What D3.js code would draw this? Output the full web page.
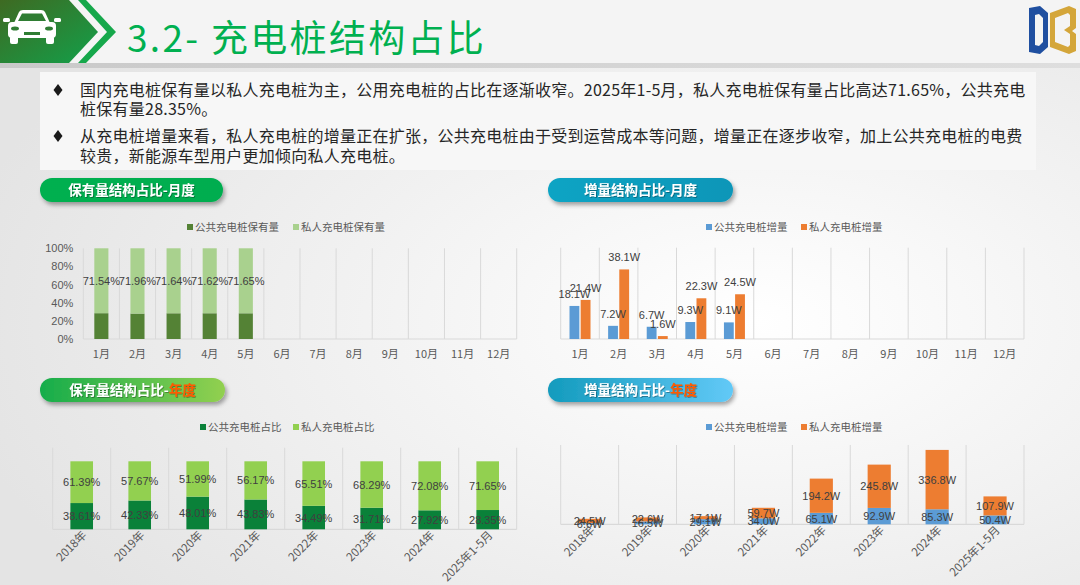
<!DOCTYPE html>
<html>
<head>
<meta charset="utf-8">
<script src="https://cdn.jsdelivr.net/npm/d3@7"></script>
<style>
html, body { margin: 0; padding: 0; }
body { width: 1080px; height: 585px; overflow: hidden; }
text { font-family: "Liberation Sans", "Noto Sans CJK SC", sans-serif; }
.cjk { font-family: "Noto Sans CJK SC", sans-serif; }
</style>
</head>
<body>
<svg id="page" width="1080" height="585"></svg>
<script>
// ---- data ----
var months = ["1月", "2月", "3月", "4月", "5月", "6月", "7月", "8月", "9月", "10月", "11月", "12月"];
var monthPublicShare = [28.46, 28.04, 28.36, 28.38, 28.35];
var monthPrivateShare = [71.54, 71.96, 71.64, 71.62, 71.65];
var monthPublicAdd = [18.1, 7.2, 6.7, 9.3, 9.1];
var monthPrivateAdd = [21.4, 38.1, 1.6, 22.3, 24.5];

var years = ["2018年", "2019年", "2020年", "2021年", "2022年", "2023年", "2024年", "2025年1-5月"];
var yearPublicShare = [38.61, 42.33, 48.01, 43.83, 34.49, 31.71, 27.92, 28.35];
var yearPrivateShare = [61.39, 57.67, 51.99, 56.17, 65.51, 68.29, 72.08, 71.65];
var yearPublicAdd = [6.6, 16.5, 29.1, 34.0, 65.1, 92.9, 85.3, 50.4];
var yearPrivateAdd = [24.5, 22.6, 17.1, 59.7, 194.2, 245.8, 336.8, 107.9];

var pctTicks = [0, 20, 40, 60, 80, 100];

var bullets = [
    ["国内充电桩保有量以私人充电桩为主，公用充电桩的占比在逐渐收窄。2025年1-5月，私人充电桩保有量占比高达71.65%，公共充电",
     "桩保有量28.35%。"],
    ["从充电桩增量来看，私人充电桩的增量正在扩张，公共充电桩由于受到运营成本等问题，增量正在逐步收窄，加上公共充电桩的电费",
     "较贵，新能源车型用户更加倾向私人充电桩。"]
];

var svg = d3.select("#page");
var defs = svg.append("defs");

// ---- page background ----
var bg = defs.append("radialGradient").attr("id", "bgGrad")
    .attr("cx", "70%").attr("cy", "55%").attr("r", "75%");
bg.append("stop").attr("offset", "0%").attr("stop-color", "#ffffff");
bg.append("stop").attr("offset", "100%").attr("stop-color", "#e4e4e4");
svg.append("rect").attr("width", 1080).attr("height", 585).attr("fill", "url(#bgGrad)");

var sh = defs.append("filter").attr("id", "pillShadow")
    .attr("x", "-10%").attr("y", "-30%").attr("width", "130%").attr("height", "180%");
sh.append("feDropShadow").attr("dx", 2).attr("dy", 3).attr("stdDeviation", 2)
    .attr("flood-color", "#000").attr("flood-opacity", 0.35);

var tsh = defs.append("filter").attr("id", "textShadow");
tsh.append("feDropShadow").attr("dx", 0.8).attr("dy", 0.8).attr("stdDeviation", 0.5)
    .attr("flood-color", "#000").attr("flood-opacity", 0.4);

// ---- header ----
var hdr = defs.append("linearGradient").attr("id", "hdrGreen")
    .attr("x1", "0%").attr("y1", "0%").attr("x2", "100%").attr("y2", "100%");
hdr.append("stop").attr("offset", "0%").attr("stop-color", "#3e6a22");
hdr.append("stop").attr("offset", "100%").attr("stop-color", "#13a04a");

var lineGrad = defs.append("linearGradient").attr("id", "hdrLine");
lineGrad.append("stop").attr("offset", "0%").attr("stop-color", "#c9c9c9");
lineGrad.append("stop").attr("offset", "100%").attr("stop-color", "#dedede");

svg.append("rect").attr("x", 0).attr("y", 0).attr("width", 1080).attr("height", 63).attr("fill", "#f4f4f4");
svg.append("rect").attr("x", 0).attr("y", 63).attr("width", 1080).attr("height", 5).attr("fill", "url(#hdrLine)");

svg.append("polygon").attr("points", "0,0 69,0 98,32 69,63 0,63").attr("fill", "url(#hdrGreen)");
svg.append("polygon").attr("points", "78,0 86,0 116,32 86,63 78,63 107,32").attr("fill", "#16a84b");

// car icon
var car = svg.append("g").attr("fill", "#ffffff");
car.append("path").attr("d", "M14,23 L19,12 Q20,10 23,10 L41,10 Q44,10 45,12 L50,23 Z");
car.append("rect").attr("x", 8).attr("y", 22).attr("width", 48).attr("height", 16).attr("rx", 4);
car.append("rect").attr("x", 3).attr("y", 18).attr("width", 7).attr("height", 4).attr("rx", 1.5);
car.append("rect").attr("x", 54).attr("y", 18).attr("width", 7).attr("height", 4).attr("rx", 1.5);
car.append("rect").attr("x", 10).attr("y", 36).attr("width", 8).attr("height", 8).attr("rx", 2);
car.append("rect").attr("x", 46).attr("y", 36).attr("width", 8).attr("height", 8).attr("rx", 2);
car.append("path").attr("d", "M18,21 L22,13.5 L42,13.5 L46,21 Z").attr("fill", "#2f7d33");
car.append("ellipse").attr("cx", 15).attr("cy", 28.5).attr("rx", 4).attr("ry", 2).attr("fill", "#2f7d33");
car.append("ellipse").attr("cx", 49).attr("cy", 28.5).attr("rx", 4).attr("ry", 2).attr("fill", "#2f7d33");
car.append("rect").attr("x", 24).attr("y", 32).attr("width", 16).attr("height", 3).attr("fill", "#2f7d33");

svg.append("text").attr("class", "cjk").attr("x", 127).attr("y", 52)
    .attr("font-size", 37).attr("letter-spacing", 2.3).attr("fill", "#00b050")
    .text("3.2- 充电桩结构占比");

// logo
svg.append("path").attr("fill-rule", "evenodd").attr("fill", "#1f4fa0")
    .attr("d", "M1029,8 L1040,6 L1048,13 L1048,47 L1040,54 L1029,52 Z M1035,15 L1039,14 L1043,18 L1043,42 L1039,46 L1035,45 Z");
svg.append("path").attr("fill-rule", "evenodd").attr("fill", "#d4a63a")
    .attr("d", "M1050,13 L1069,6 L1076,9 L1076,28 L1072,31 L1076,34 L1076,51 L1069,54 L1050,47 Z M1055,18 L1068,13 L1070,15 L1070,26 L1064,30 L1070,34 L1070,45 L1068,47 L1055,42 Z");

// ---- text box ----
svg.append("rect").attr("x", 40).attr("y", 72).attr("width", 996).attr("height", 98).attr("fill", "#f7f7f7");
var lineY = [[96, 115], [142, 162]];
bullets.forEach(function (para, i) {
    var cy = lineY[i][0] - 6;
    svg.append("path")
        .attr("d", "M58," + (cy - 6) + " L62.5," + cy + " L58," + (cy + 6) + " L53.5," + cy + " Z")
        .attr("fill", "#1a1a1a");
    para.forEach(function (line, j) {
        svg.append("text").attr("class", "cjk")
            .attr("x", 80).attr("y", lineY[i][j])
            .attr("font-size", 16).attr("letter-spacing", 0.25).attr("fill", "#262626")
            .text(line);
    });
});

// ---- pill headers ----
function pill(x, y, w, h, id, c1, c2, parts) {
    var gr = defs.append("linearGradient").attr("id", id);
    gr.append("stop").attr("offset", "0%").attr("stop-color", c1);
    gr.append("stop").attr("offset", "100%").attr("stop-color", c2);
    svg.append("rect").attr("x", x).attr("y", y).attr("width", w).attr("height", h)
        .attr("rx", h / 2).attr("fill", "url(#" + id + ")").attr("filter", "url(#pillShadow)");
    var t = svg.append("text").attr("class", "cjk")
        .attr("x", x + w / 2).attr("y", y + h / 2 + 5)
        .attr("text-anchor", "middle").attr("font-size", 13.5).attr("font-weight", "bold")
        .attr("filter", "url(#textShadow)");
    parts.forEach(function (p) {
        t.append("tspan").attr("fill", p[1]).text(p[0]);
    });
}
pill(40, 178, 183, 24, "pill1", "#00b050", "#00ad50", [["保有量结构占比-月度", "#ffffff"]]);
pill(548, 178, 185, 24, "pill2", "#0ea4c4", "#0b96b8", [["增量结构占比-月度", "#ffffff"]]);
pill(40, 378, 185, 24, "pill3", "#16ad4b", "#92d050", [["保有量结构占比-", "#ffffff"], ["年度", "#ff5a00"]]);
pill(548, 378, 185, 24, "pill4", "#139bbd", "#62c9f7", [["增量结构占比-", "#ffffff"], ["年度", "#ff5a00"]]);

// ---- shared helpers ----
function legend(items, y) {
    items.forEach(function (it) {
        svg.append("rect").attr("x", it.x).attr("y", y - 3).attr("width", 6).attr("height", 6).attr("fill", it.color);
        svg.append("text").attr("class", "cjk").attr("x", it.x + 8).attr("y", y + 4)
            .attr("font-size", 10.5).attr("fill", "#595959").text(it.label);
    });
}

function frame(x, top, bottom) {
    var cats = x.domain();
    var xs = cats.map(function (c) { return x(c); });
    xs.push(x.range()[1]);
    svg.append("g").selectAll("line").data(xs).enter().append("line")
        .attr("x1", function (d) { return d; }).attr("x2", function (d) { return d; })
        .attr("y1", top).attr("y2", bottom)
        .attr("stroke", "#d9d9d9").attr("stroke-width", 1);
    svg.append("line").attr("x1", x.range()[0]).attr("x2", x.range()[1])
        .attr("y1", bottom).attr("y2", bottom)
        .attr("stroke", "#d9d9d9").attr("stroke-width", 1.2);
}

function xAxis(x, y0, rotate) {
    var g = svg.append("g").attr("transform", "translate(0," + y0 + ")")
        .call(d3.axisBottom(x).tickSize(0).tickPadding(11));
    g.select(".domain").remove();
    g.selectAll("text").attr("class", "cjk").attr("font-size", 11).attr("fill", "#595959");
    if (rotate) {
        g.selectAll("text").attr("text-anchor", "end").attr("font-size", 11.5)
            .attr("dy", "0.35em").attr("dx", "0")
            .attr("transform", "translate(-5,-4) rotate(-45)");
    }
}

// ---- chart 1: monthly stock share ----
(function () {
    var x = d3.scaleBand().domain(months).range([83.3, 516.7]);
    var y = d3.scaleLinear().domain([0, 100]).range([339, 248.3]);
    var bw = x.step() * 0.39;
    frame(x, 248.3, 339);
    var ya = svg.append("g").attr("transform", "translate(83.3,0)")
        .call(d3.axisLeft(y).tickValues(pctTicks).tickFormat(function (d) { return d + "%"; })
            .tickSize(0).tickPadding(10));
    ya.select(".domain").remove();
    ya.selectAll("text").attr("font-size", 11).attr("fill", "#595959");

    var rows = monthPublicShare.map(function (p, i) {
        return { m: months[i], pub: p, pri: monthPrivateShare[i] };
    });
    var cx = function (d) { return x(d.m) + x.step() / 2; };
    svg.append("g").selectAll("rect").data(rows).enter().append("rect")
        .attr("x", function (d) { return cx(d) - bw / 2; }).attr("width", bw)
        .attr("y", function (d) { return y(d.pub); })
        .attr("height", function (d) { return y(0) - y(d.pub); })
        .attr("fill", "#548235");
    svg.append("g").selectAll("rect").data(rows).enter().append("rect")
        .attr("x", function (d) { return cx(d) - bw / 2; }).attr("width", bw)
        .attr("y", function (d) { return y(d.pub + d.pri); })
        .attr("height", function (d) { return y(d.pub) - y(d.pub + d.pri); })
        .attr("fill", "#a9d18e");
    svg.append("g").selectAll("text").data(rows).enter().append("text")
        .attr("x", cx).attr("y", function (d) { return y(d.pub + d.pri / 2) + 4; })
        .attr("text-anchor", "middle").attr("font-size", 11).attr("fill", "#404040")
        .text(function (d) { return d.pri.toFixed(2) + "%"; });
    xAxis(x, 339, false);
    legend([{ x: 187, color: "#548235", label: "公共充电桩保有量" },
            { x: 293, color: "#a9d18e", label: "私人充电桩保有量" }], 227);
})();

// ---- chart 2: monthly increments ----
(function () {
    var x = d3.scaleBand().domain(months).range([560.7, 1024]);
    var y = d3.scaleLinear().domain([0, 50]).range([339, 247.7]);
    var x1 = d3.scaleBand().domain(["pub", "pri"]).range([-10.5, 10.5]).paddingInner(0.12);
    frame(x, 247.7, 339);
    var rows = [];
    monthPublicAdd.forEach(function (v, i) {
        rows.push({ m: months[i], k: "pub", v: v, c: "#5b9bd5" });
        rows.push({ m: months[i], k: "pri", v: monthPrivateAdd[i], c: "#ed7d31" });
    });
    var bx = function (d) { return x(d.m) + x.step() / 2 + x1(d.k); };
    svg.append("g").selectAll("rect").data(rows).enter().append("rect")
        .attr("x", bx).attr("width", x1.bandwidth())
        .attr("y", function (d) { return y(d.v); })
        .attr("height", function (d) { return y(0) - y(d.v); })
        .attr("fill", function (d) { return d.c; });
    svg.append("g").selectAll("text").data(rows).enter().append("text")
        .attr("x", function (d) { return bx(d) + x1.bandwidth() / 2; })
        .attr("y", function (d) { return y(d.v) - 8; })
        .attr("text-anchor", "middle").attr("font-size", 11).attr("fill", "#404040")
        .text(function (d) { return d.v.toFixed(1) + "W"; });
    xAxis(x, 339, false);
    legend([{ x: 706, color: "#5b9bd5", label: "公共充电桩增量" },
            { x: 801, color: "#ed7d31", label: "私人充电桩增量" }], 227);
})();

// ---- chart 3: yearly stock share ----
(function () {
    var x = d3.scaleBand().domain(years).range([52.7, 516.7]);
    var y = d3.scaleLinear().domain([0, 120]).range([529.3, 447.7]);
    var bw = x.step() * 0.39;
    frame(x, 447.7, 529.3);
    var rows = yearPublicShare.map(function (p, i) {
        return { yr: years[i], pub: p, pri: yearPrivateShare[i] };
    });
    var cx = function (d) { return x(d.yr) + x.step() / 2; };
    svg.append("g").selectAll("rect").data(rows).enter().append("rect")
        .attr("x", function (d) { return cx(d) - bw / 2; }).attr("width", bw)
        .attr("y", function (d) { return y(d.pub); })
        .attr("height", function (d) { return y(0) - y(d.pub); })
        .attr("fill", "#0a8139");
    svg.append("g").selectAll("rect").data(rows).enter().append("rect")
        .attr("x", function (d) { return cx(d) - bw / 2; }).attr("width", bw)
        .attr("y", function (d) { return y(d.pub + d.pri); })
        .attr("height", function (d) { return y(d.pub) - y(d.pub + d.pri); })
        .attr("fill", "#92d050");
    var lab = svg.append("g").attr("text-anchor", "middle").attr("font-size", 11).attr("fill", "#404040");
    lab.selectAll("text.pub").data(rows).enter().append("text").attr("class", "pub")
        .attr("x", cx).attr("y", function (d) { return y(d.pub / 2) + 4; })
        .text(function (d) { return d.pub.toFixed(2) + "%"; });
    lab.selectAll("text.pri").data(rows).enter().append("text").attr("class", "pri")
        .attr("x", cx).attr("y", function (d) { return y(d.pub + d.pri / 2) + 4; })
        .text(function (d) { return d.pri.toFixed(2) + "%"; });
    xAxis(x, 529.3, true);
    legend([{ x: 200, color: "#0a8139", label: "公共充电桩占比" },
            { x: 293, color: "#92d050", label: "私人充电桩占比" }], 427);
})();

// ---- chart 4: yearly increments ----
(function () {
    var x = d3.scaleBand().domain(years).range([560.7, 1024]);
    var y = d3.scaleLinear().domain([0, 450]).range([524.3, 445]);
    var bw = x.step() * 0.4;
    frame(x, 445, 524.3);
    var rows = yearPublicAdd.map(function (p, i) {
        return { yr: years[i], pub: p, pri: yearPrivateAdd[i] };
    });
    var cx = function (d) { return x(d.yr) + x.step() / 2; };
    svg.append("g").selectAll("rect").data(rows).enter().append("rect")
        .attr("x", function (d) { return cx(d) - bw / 2; }).attr("width", bw)
        .attr("y", function (d) { return y(d.pub); })
        .attr("height", function (d) { return y(0) - y(d.pub); })
        .attr("fill", "#5b9bd5");
    svg.append("g").selectAll("rect").data(rows).enter().append("rect")
        .attr("x", function (d) { return cx(d) - bw / 2; }).attr("width", bw)
        .attr("y", function (d) { return y(d.pub + d.pri); })
        .attr("height", function (d) { return y(d.pub) - y(d.pub + d.pri); })
        .attr("fill", "#ed7d31");
    var lab = svg.append("g").attr("text-anchor", "middle").attr("font-size", 11).attr("fill", "#404040");
    lab.selectAll("text.pub").data(rows).enter().append("text").attr("class", "pub")
        .attr("x", cx).attr("y", function (d) { return y(d.pub / 2) + 4; })
        .text(function (d) { return d.pub.toFixed(1) + "W"; });
    lab.selectAll("text.pri").data(rows).enter().append("text").attr("class", "pri")
        .attr("x", cx).attr("y", function (d) { return y(d.pub + d.pri / 2) + 4; })
        .text(function (d) { return d.pri.toFixed(1) + "W"; });
    xAxis(x, 524.3, true);
    legend([{ x: 706, color: "#5b9bd5", label: "公共充电桩增量" },
            { x: 801, color: "#ed7d31", label: "私人充电桩增量" }], 427);
})();
</script>
</body>
</html>
